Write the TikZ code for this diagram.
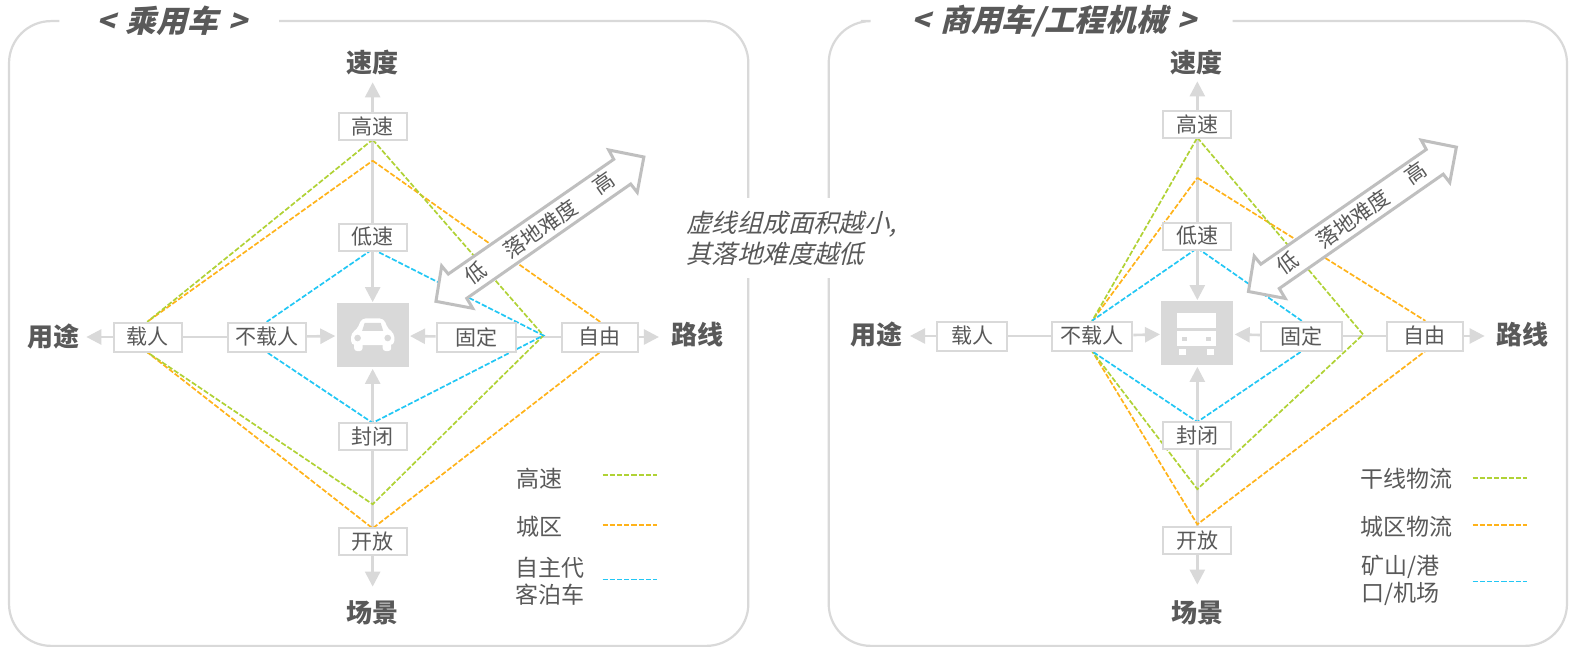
\documentclass[tikz,border=0pt]{standalone}
\usepackage{fontspec}
\usetikzlibrary{arrows.meta,calc}
\setmainfont{Noto Sans CJK SC}
\newfontfamily\slfont[FakeSlant=0.25]{Noto Sans CJK SC}
\definecolor{axisgray}{HTML}{D9D9D9}
\definecolor{arrowgray}{HTML}{BFBFBF}
\definecolor{txt}{HTML}{595959}
\definecolor{dgreen}{HTML}{B0D235}
\definecolor{dorange}{HTML}{FFB31A}
\definecolor{dblue}{HTML}{22C7F5}
\pgfdeclarelayer{conn}\pgfdeclarelayer{dash}
\pgfsetlayers{conn,dash,main}
\tikzset{
  panel/.style={draw=axisgray,line width=1.1pt,rounded corners=21pt},
  axis/.style={draw=axisgray,line width=1.3pt},
  axisarrow/.style={axis,-{Triangle[length=7.5pt,width=7.5pt]},shorten >=0.5pt},
  dgr/.style={draw=dgreen,line width=.85pt,dash pattern=on 2.6pt off 1pt},
  dor/.style={draw=dorange,line width=.85pt,dash pattern=on 2.6pt off 1pt},
  dbl/.style={draw=dblue,line width=.85pt,dash pattern=on 2.6pt off 1pt},
  lbl/.style={draw=axisgray,fill=white,line width=1pt,inner sep=0pt,text=txt,font=\fontsize{10.5}{12}\selectfont,minimum height=13.5pt},
  vbox/.style={lbl,minimum width=34pt},
  hbox/.style={lbl,minimum width=#1,minimum height=14.5pt},
  axtitle/.style={text=txt,inner sep=0pt,font=\fontsize{13}{15}\selectfont\bfseries},
  legend/.style={text=txt,inner sep=0pt,align=left,anchor=west,font=\fontsize{11.5}{13.6}\selectfont},
  title/.style={text=txt,inner sep=0pt,font=\fontsize{15.3}{18}\slfont\bfseries},
  note/.style={text=txt,inner sep=0pt,align=left,anchor=west,font=\fontsize{12.7}{15.4}\slfont},
  bigarrow/.style={draw=arrowgray,fill=white,line width=1.5pt,line join=miter},
  artext/.style={text=txt,inner sep=0pt,rotate=35,font=\fontsize{10.5}{12}\selectfont},
  icon/.style={fill=axisgray,draw=none,inner sep=0pt,minimum width=36pt,minimum height=#1},
}
\begin{document}
\begin{tikzpicture}[x=0.50225pt,y=-0.50225pt]
\useasboundingbox (0,0) rectangle (1568,651);
% panels
\begin{pgfonlayer}{conn}
\fill[white] (0,0) rectangle (1568,651);
\draw[panel] (278,21) -| (745,197);
\draw[panel] (745,277) |- (9,643) |- (59,21);
\draw[panel] (825,197) |- (857,21);
\draw[panel] (1227,21) -| (1560,643) -| (825,277);
\end{pgfonlayer}
% ---- left panel nodes
\node[icon=32pt] (Lc) at (371,334) {};
\node[vbox] (Lhi) at (371,126) {高速};
\node[vbox] (Llo) at (371,236) {低速};
\node[vbox] (Lcl) at (371,435) {封闭};
\node[vbox] (Lop) at (371,539) {开放};
\node[hbox=34pt] (Lcar) at (147,335.5) {载人};
\node[hbox=39pt] (Lno) at (266,335.5) {不载人};
\node[hbox=39.5pt] (Lfix) at (474,335.5) {固定};
\node[hbox=38pt] (Lfree) at (597,335.5) {自由};
\node[axtitle] (Lspd) at (370.5,62) {速度};
\node[axtitle] (Lsce) at (370.5,610) {场景};
\node[axtitle] (Luse) at (53,335) {用途};
\node[axtitle] (Lrou) at (694,333) {路线};
\coordinate (LtU) at (371,81);
\coordinate (LtD) at (371,585);
\coordinate (LtL) at (85,335.5);
\coordinate (LtR) at (657,335.5);
\coordinate (LgT) at (371,139);\coordinate (LgR) at (541,334);\coordinate (LgB) at (371,502);
\coordinate (LoT) at (371,160);\coordinate (LoB) at (371,526);
\coordinate (LbT) at (371,248);\coordinate (LbR) at (541,334);\coordinate (LbB) at (371,421);
\begin{pgfonlayer}{conn}
\draw[axisarrow] (Lhi) -- (LtU);
\draw[axis] (Lhi) -- (Llo);
\draw[axisarrow] (Llo) -- (Lc);
\draw[axisarrow] (Lcl) -- (Lc);
\draw[axis] (Lcl) -- (Lop);
\draw[axisarrow] (Lop) -- (LtD);
\draw[axisarrow] (Lcar) -- (LtL);
\draw[axis] (Lcar) -- (Lno);
\draw[axisarrow] (Lno) -- (Lc);
\draw[axisarrow] (Lfix) -- (Lc);
\draw[axis] (Lfix) -- (Lfree);
\draw[axisarrow] (Lfree) -- (LtR);
\end{pgfonlayer}
\begin{pgfonlayer}{dash}
\draw[dor] (LoT) -- (Lfree.north) -- (Lfree.south) -- (LoB) -- (Lcar.south) -- (Lcar.north) -- cycle;
\draw[dgr] (LgT) -- (LgR) -- (LgB) -- (Lcar.south) -- (Lcar.north) -- cycle;
\draw[dbl] (LbT) -- (LbR) -- (LbB) -- (Lno.south) -- (Lno.north) -- cycle;
\end{pgfonlayer}
% car icon
\fill[white,rounded corners=2pt] (349.5,343.5) -- (349.5,331.5) -- (355.5,328) -- (360,317) -- (382,317) -- (386.5,328) -- (392.5,331.5) -- (392.5,343.5) -- cycle;
\fill[white,rounded corners=1.5pt] (352.5,340) rectangle (361,349.5);
\fill[white,rounded corners=1.5pt] (381,340) rectangle (389.5,349.5);
\fill[axisgray] (363,321.5) -- (379,321.5) -- (381.5,329.5) -- (360.5,329.5) -- cycle;
\fill[axisgray] (356,336.5) circle (3.3);
\fill[axisgray] (386,336.5) circle (3.3);
% big arrow left
\draw[bigarrow] (641,156.3) -- (606,149.3) -- (611,158.6) -- (446.3,272.8) -- (439.7,264.8) -- (434,300) -- (470.6,306.9) -- (464.7,297) -- (627.9,183.2) -- (634.4,191.5) -- cycle;
\node[artext] (Lalo) at (473,271.5) {低};
\node[artext] (Lamid) at (538,228) {落地难度};
\node[artext] (Lahi) at (600.5,182) {高};
% title, legend
\node[title] (Ltitle) at (171,21) {<\hspace{2pt} 乘用车 \hspace{2pt}>};
\node[legend] (Lg1) at (514,477) {高速};
\node[legend] (Lg2) at (514,524) {城区};
\node[legend] (Lg3) at (513,579) {自主代\\客泊车};
\coordinate (Ll1a) at (600,473);\coordinate (Ll1b) at (654,473);
\coordinate (Ll2a) at (600,523);\coordinate (Ll2b) at (654,523);
\coordinate (Ll3a) at (600,577);\coordinate (Ll3b) at (654,577);
\draw[dgr] (Ll1a) -- (Ll1b);
\draw[dor] (Ll2a) -- (Ll2b);
\draw[dbl] (Ll3a) -- (Ll3b);
% note
\node[note] (Note) at (683,237.5) {虚线组成面积越小,\\其落地难度越低};
% ---- right panel nodes
\node[icon=32pt] (Rc) at (1192,332) {};
\node[vbox] (Rhi) at (1192,124) {高速};
\node[vbox] (Rlo) at (1192,235) {低速};
\node[vbox] (Rcl) at (1192,434) {封闭};
\node[vbox] (Rop) at (1192,538.5) {开放};
\node[hbox=35pt] (Rcar) at (968,334.5) {载人};
\node[hbox=40pt] (Rno) at (1087.5,334.5) {不载人};
\node[hbox=40.5pt] (Rfix) at (1295.5,334.5) {固定};
\node[hbox=38pt] (Rfree) at (1418.5,334.5) {自由};
\node[axtitle] (Rspd) at (1191,62) {速度};
\node[axtitle] (Rsce) at (1192,610) {场景};
\node[axtitle] (Ruse) at (873,333) {用途};
\node[axtitle] (Rrou) at (1516,333) {路线};
\coordinate (RtU) at (1192,80);
\coordinate (RtD) at (1192,583);
\coordinate (RtL) at (905,334.5);
\coordinate (RtR) at (1479,334.5);
\coordinate (RgT) at (1192,137);\coordinate (RgR) at (1357,333);\coordinate (RgB) at (1192,487);
\coordinate (RoT) at (1192,177);\coordinate (RoB) at (1192,522);
\coordinate (RbT) at (1192,247);\coordinate (RbB) at (1192,420);
\begin{pgfonlayer}{conn}
\draw[axisarrow] (Rhi) -- (RtU);
\draw[axis] (Rhi) -- (Rlo);
\draw[axisarrow] (Rlo) -- (Rc);
\draw[axisarrow] (Rcl) -- (Rc);
\draw[axis] (Rcl) -- (Rop);
\draw[axisarrow] (Rop) -- (RtD);
\draw[axisarrow] (Rcar) -- (RtL);
\draw[axis] (Rcar) -- (Rno);
\draw[axisarrow] (Rno) -- (Rc);
\draw[axisarrow] (Rfix) -- (Rc);
\draw[axis] (Rfix) -- (Rfree);
\draw[axisarrow] (Rfree) -- (RtR);
\end{pgfonlayer}
\begin{pgfonlayer}{dash}
\draw[dor] (RoT) -- (Rfree.north) -- (Rfree.south) -- (RoB) -- (Rno.south) -- (Rno.north) -- cycle;
\draw[dgr] (RgT) -- (RgR) -- (RgB) -- (Rno.south) -- (Rno.north) -- cycle;
\draw[dbl] (RbT) -- (Rfix.north) -- (Rfix.south) -- (RbB) -- (Rno.south) -- (Rno.north) -- cycle;
\end{pgfonlayer}
% truck icon
\fill[white] (1172,312) rectangle (1210.5,327);
\fill[white] (1172,330) rectangle (1210.5,344.5);
\fill[axisgray] (1177,335.8) rectangle (1182,339.2);
\fill[axisgray] (1200.5,335.8) rectangle (1205.5,339.2);
\fill[white] (1174,347.7) rectangle (1180.7,353);
\fill[white] (1202,347.7) rectangle (1209,353);
% big arrow right
\begin{scope}[shift={(808.9,-9.8)}]
\draw[bigarrow] (641,156.3) -- (606,149.3) -- (611,158.6) -- (446.3,272.8) -- (439.7,264.8) -- (434,300) -- (470.6,306.9) -- (464.7,297) -- (627.9,183.2) -- (634.4,191.5) -- cycle;
\node[artext] (Ralo) at (473,271.5) {低};
\node[artext] (Ramid) at (538,228) {落地难度};
\node[artext] (Rahi) at (600.5,182) {高};
\end{scope}
\node[title] (Rtitle) at (1049,21) {<\hspace{2pt} 商用车/工程机械 \hspace{2pt}>};
\node[legend] (Rg1) at (1354,477) {干线物流};
\node[legend] (Rg2) at (1354,524) {城区物流};
\node[legend] (Rg3) at (1355,578) {矿山/港\\口/机场};
\coordinate (Rl1a) at (1466,476);\coordinate (Rl1b) at (1520,476);
\coordinate (Rl2a) at (1466,523);\coordinate (Rl2b) at (1520,523);
\coordinate (Rl3a) at (1466,579);\coordinate (Rl3b) at (1520,579);
\draw[dgr] (Rl1a) -- (Rl1b);
\draw[dor] (Rl2a) -- (Rl2b);
\draw[dbl] (Rl3a) -- (Rl3b);
\end{tikzpicture}
\end{document}
